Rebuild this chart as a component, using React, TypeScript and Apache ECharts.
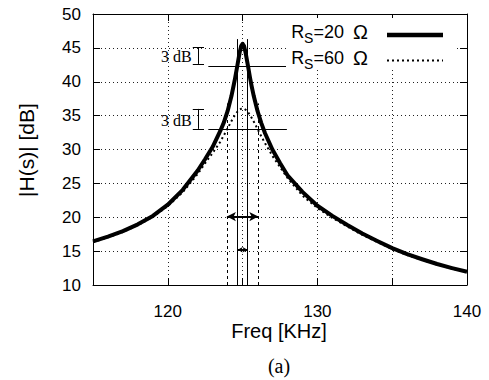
import { useEffect, useRef } from 'react';
import * as echarts from 'echarts';

// Frequency samples [kHz]
const freqs = [
  115, 116, 117, 118, 119, 120, 121, 122, 122.5, 123, 123.5, 123.75, 124, 124.25, 124.4,
  124.5, 124.65, 124.8, 124.9, 125, 125.1, 125.2, 125.35, 125.5, 125.6, 125.75, 126,
  126.25, 126.5, 127, 127.5, 128, 129, 130, 131, 132, 133, 134, 135, 136, 137, 138, 139, 140,
];
// |H(s)| [dB] for RS = 20 ohm
const rs20 = [
  16.45, 17.15, 17.95, 18.95, 20.2, 21.85, 24.05, 26.9, 28.6, 30.4, 32.7, 34.0, 35.7, 37.85, 39.45,
  40.55, 42.4, 44.3, 45.25, 45.6, 45.25, 44.3, 42.45, 40.55, 39.4, 37.85, 35.65,
  33.9, 32.4, 29.95, 28.0, 26.2, 23.75, 21.7, 20.2, 18.85, 17.6, 16.5, 15.45, 14.55, 13.8, 13.1, 12.5, 11.95,
];
// |H(s)| [dB] for RS = 60 ohm
const rs60 = [
  16.32, 17.03, 17.83, 18.83, 20.06, 21.65, 23.7, 26.4, 28.0, 29.5, 31.1, 32.1, 33.13, 34.18, 34.77,
  35.12, 35.57, 35.89, 36.01, 36.05, 36.01, 35.87, 35.54, 35.07, 34.7, 34.1, 33.02,
  31.94, 30.92, 29.03, 27.41, 25.8, 23.2, 21.35, 19.9, 18.62, 17.41, 16.34, 15.3, 14.42, 13.71, 13.02, 12.42, 11.88,
];
const xLabeled = [120, 130, 140];

// annotation values (data space)
const bw20 = [124.67, 125.33];
const bw60 = [123.95, 126.05];
const peakLine20 = 42.23;
const peakLine60 = 33.04;
const brace20 = [42.63, 45.03];
const brace60 = [33.04, 35.99];

const SANS = '"Liberation Sans", Arial, sans-serif';
const SERIF = '"Liberation Serif", "Times New Roman", serif';

function textWidth(text: string, font: string): number {
  const c = document.createElement('canvas').getContext('2d')!;
  c.font = font;
  return c.measureText(text).width;
}

export default function App() {
  const ref = useRef<HTMLDivElement>(null);
  useEffect(() => {
    const chart = echarts.init(ref.current!, null, { renderer: 'svg' });
    const black = '#000';
    const seg = (x1: number, y1: number, x2: number, y2: number, style: any, s1 = 'none', s2 = 'none', size: any = 0) => [
      { coord: [x1, y1], lineStyle: style, symbol: s1, symbolSize: size },
      { coord: [x2, y2], symbol: s2, symbolSize: size },
    ];
    const solid = { color: black, width: 1, type: 'solid' };
    const dashed = { color: black, width: 1, type: [3, 3] };
    const capL = 121.67, capR = 122.42, braceX = 122.04;
    const lineL = 122.71, lineR = 127.96;

    const option: any = {
      animation: false,
      backgroundColor: '#fff',
      grid: { left: 93, right: 22, top: 14, bottom: 95, show: false },
      xAxis: [
        {
          type: 'value', min: 115, max: 140, interval: 5, position: 'bottom',
          axisLine: { show: true, onZero: false, lineStyle: { color: black, width: 1 } },
          axisTick: { show: true, inside: true, length: 7, lineStyle: { color: black } },
          axisLabel: {
            color: black, fontSize: 17, fontFamily: SANS, margin: 18,
            formatter: (v: number) => (xLabeled.includes(v) ? String(v) : ''),
          },
          splitLine: { show: true, lineStyle: { color: '#222', width: 1, type: [1, 3] } },
        },
        {
          type: 'value', min: 115, max: 140, interval: 5, position: 'top',
          axisLine: { show: true, onZero: false, lineStyle: { color: black, width: 1 } },
          axisTick: { show: true, inside: true, length: 7, lineStyle: { color: black } },
          axisLabel: { show: false },
          splitLine: { show: false },
        },
      ],
      yAxis: [
        {
          type: 'value', min: 10, max: 50, interval: 5, position: 'left',
          axisLine: { show: true, onZero: false, lineStyle: { color: black, width: 1 } },
          axisTick: { show: true, inside: true, length: 7, lineStyle: { color: black } },
          axisLabel: { color: black, fontSize: 17, fontFamily: SANS, margin: 12 },
          splitLine: { show: true, lineStyle: { color: '#222', width: 1, type: [1, 3] } },
        },
        {
          type: 'value', min: 10, max: 50, interval: 5, position: 'right',
          axisLine: { show: true, onZero: false, lineStyle: { color: black, width: 1 } },
          axisTick: { show: true, inside: true, length: 7, lineStyle: { color: black } },
          axisLabel: { show: false },
          splitLine: { show: false },
        },
      ],
      series: [
        {
          type: 'line', name: 'RS=20', xAxisIndex: 0, yAxisIndex: 0,
          data: freqs.map((f, i) => [f, rs20[i]]),
          showSymbol: false, symbol: 'none', z: 3,
          lineStyle: { color: black, width: 4, join: 'round' },
          markLine: {
            silent: true, animation: false, symbol: ['none', 'none'],
            label: { show: false }, emphasis: { disabled: true },
            data: [
              seg(bw20[0], 10, bw20[0], 46.3, solid),
              seg(bw20[1], 10, bw20[1], 46.3, solid),
              seg(bw60[0], 10, bw60[0], 36.8, dashed),
              seg(bw60[1], 10, bw60[1], 36.8, dashed),
              seg(lineL, peakLine20, lineR, peakLine20, solid),
              seg(lineL, peakLine60, lineR, peakLine60, solid),
              seg(braceX, brace20[0], braceX, brace20[1], solid),
              seg(capL, brace20[0], capR, brace20[0], solid),
              seg(capL, brace20[1], capR, brace20[1], solid),
              seg(braceX, brace60[0], braceX, brace60[1], solid),
              seg(capL, brace60[0], capR, brace60[0], solid),
              seg(capL, brace60[1], capR, brace60[1], solid),
              seg(bw60[0], 20.1, bw60[1], 20.1, { color: black, width: 2, type: 'solid' }, 'arrow', 'arrow', [7, 9]),
              seg(bw20[0], 15.2, bw20[1], 15.2, { color: black, width: 2, type: 'solid' }, 'arrow', 'arrow', [4, 5]),
            ],
          },
        },
        {
          type: 'line', name: 'RS=60', xAxisIndex: 0, yAxisIndex: 0,
          data: freqs.map((f, i) => [f, rs60[i]]),
          showSymbol: false, symbol: 'none', z: 4,
          lineStyle: { color: black, width: 2, type: [2, 3] },
        },
      ],
    };
    chart.setOption(option);

    const px = (x: number, y: number) => chart.convertToPixel({ gridIndex: 0 }, [x, y]) as number[];
    const p1 = px(121.6, 43.8);
    const p2 = px(121.6, 34.25);

    // legend layout (right-aligned key, gnuplot style)
    const mainFont = 18, subFont = 14, omFont = 20;
    const legendRows = [
      { val: '=20', y: 32, sample: 'solid' },
      { val: '=60', y: 57.5, sample: 'dotted' },
    ];
    const legendEls: any[] = [];
    legendRows.forEach((r) => {
      const valRight = 344;
      const omLeft = 353;
      const wVal = textWidth(r.val, `${mainFont}px ${SANS}`);
      const wS = textWidth('S', `${subFont}px ${SANS}`);
      const sRight = valRight - wVal;
      const rRight = sRight - wS;
      legendEls.push(
        { type: 'text', x: rRight, y: r.y, style: { text: 'R', font: `${mainFont}px ${SANS}`, fill: black, align: 'right', verticalAlign: 'middle' } },
        { type: 'text', x: sRight, y: r.y + 6, style: { text: 'S', font: `${subFont}px ${SANS}`, fill: black, align: 'right', verticalAlign: 'middle' } },
        { type: 'text', x: valRight, y: r.y, style: { text: r.val, font: `${mainFont}px ${SANS}`, fill: black, align: 'right', verticalAlign: 'middle' } },
        { type: 'text', x: omLeft, y: r.y, style: { text: 'Ω', font: `${omFont}px ${SANS}`, fill: black, align: 'left', verticalAlign: 'middle' } },
      );
      legendEls.push({
        type: 'line',
        shape: { x1: 387, y1: r.y + 3, x2: 443, y2: r.y + 3 },
        style: r.sample === 'solid'
          ? { stroke: black, lineWidth: 4.5 }
          : { stroke: black, lineWidth: 2, lineDash: [2, 3] },
      });
    });

    chart.setOption({
      graphic: [
        { type: 'text', x: p1[0], y: p1[1], style: { text: '3 dB', font: `16px ${SERIF}`, fill: black, align: 'right', verticalAlign: 'middle' } },
        { type: 'text', x: p2[0], y: p2[1], style: { text: '3 dB', font: `16px ${SERIF}`, fill: black, align: 'right', verticalAlign: 'middle' } },
        { type: 'rect', shape: { x: 286, y: 18, width: 170, height: 52 }, style: { fill: '#fff' }, z: 50 },
        ...legendEls.map((e) => ({ ...e, z: 51 })),
        { type: 'text', x: 26, y: 150, rotation: Math.PI / 2, style: { text: '|H(s)| [dB]', font: `21px ${SANS}`, fill: black, align: 'center', verticalAlign: 'middle' } },
        { type: 'text', x: 279, y: 331, style: { text: 'Freq [KHz]', font: `20px ${SANS}`, fill: black, align: 'center', verticalAlign: 'middle' } },
        { type: 'text', x: 279, y: 366, style: { text: '(a)', font: `20px ${SERIF}`, fill: black, align: 'center', verticalAlign: 'middle' } },
      ],
    });
    return () => chart.dispose();
  }, []);
  return (
    <div
      ref={ref}
      style={{ position: 'absolute', left: 0, top: 0, width: 489, height: 380, background: '#fff' }}
    />
  );
}
